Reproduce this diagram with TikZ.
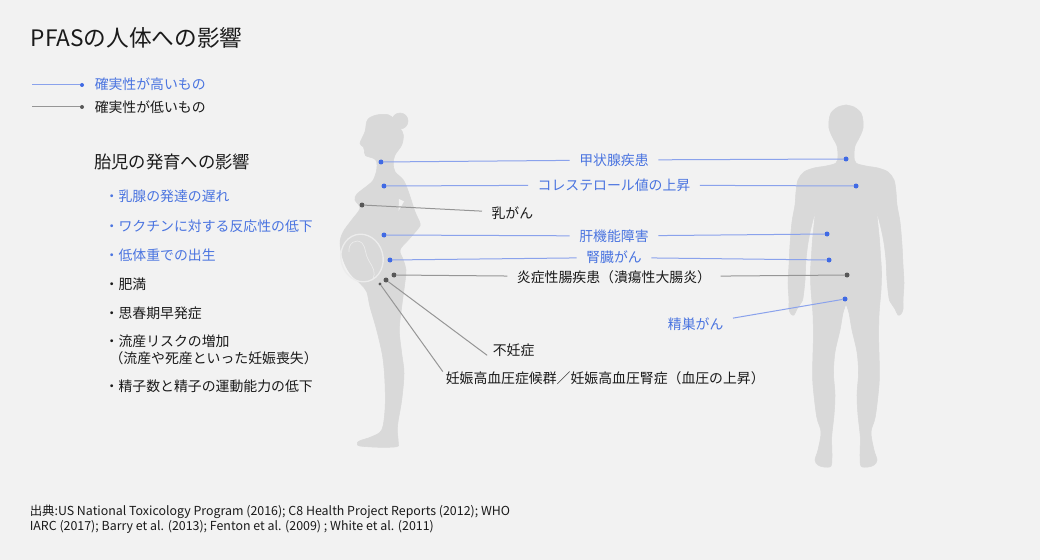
\documentclass[tikz,border=0pt]{standalone}
\usepackage{fontspec}
\usepackage{xcolor}
\setmainfont{Noto Sans CJK JP}

\definecolor{bgc}{RGB}{242,242,242}
\definecolor{bodygray}{RGB}{217,217,217}
\definecolor{ringc}{RGB}{236,236,236}
\definecolor{sure}{RGB}{64,106,228}
\definecolor{suretxt}{RGB}{74,116,224}
\definecolor{sureline}{RGB}{138,162,236}
\definecolor{weak}{RGB}{88,88,88}
\definecolor{weakline}{RGB}{150,150,150}
\definecolor{ink}{RGB}{26,26,26}

\newcommand{\pfTitle}{\fontsize{17}{20}\selectfont}
\newcommand{\pfHead}{\fontsize{13}{16}\selectfont}
\newcommand{\pfBody}{\fontsize{10.4}{12.5}\selectfont}
\newcommand{\pfNote}{\fontsize{9.3}{11.25}\selectfont}

\begin{document}
\begin{tikzpicture}[x=0.75pt,y=0.75pt,yscale=-1,xscale=1,
    dotb/.style={circle,fill=sure,inner sep=0pt,minimum size=3.75pt},
    dotg/.style={circle,fill=weak,inner sep=0pt,minimum size=3.75pt},
    lnb/.style={draw=sureline,line width=0.75pt},
    lng/.style={draw=weakline,line width=0.75pt},
    txt/.style={inner sep=0pt,anchor=west,text=ink,font=\pfBody},
    txtb/.style={txt,text=suretxt},
    onln/.style={inner xsep=7pt,inner ysep=0pt,text=ink,font=\pfBody},
    bodyfill/.style={fill=bodygray,draw=bodygray,line width=0.4pt}]

%Background
    \fill[bgc] (0,0) rectangle (1040,560);
    \useasboundingbox (0,0) rectangle (1040,560);

%Shape: pregnant woman (profile)
    \fill[bodyfill] plot[smooth cycle,tension=0.55] coordinates {(370,117.5) (376.7,115) (385,114.3) (391.7,116.7) (400,128) (403.3,135) (401.7,145) (395,155) (393.3,163.3) (395,171.7) (403.3,180) (408.5,192) (415,211.7) (420,223.3) (418.3,228.3) (408.3,240) (400,250) (403.3,260) (406,270) (405,281.7) (401.7,306.7) (399.3,330) (401.7,353.3) (404,373.3) (401.7,400) (398.3,420) (397.3,430) (398.3,443.3) (396.7,446.7) (380,447.3) (360,446) (357.3,443.3) (360,440.7) (371.7,436.7) (381.7,430) (385,410) (385,383.3) (382.7,356.7) (376.7,330) (370,306.7) (366.7,291.7) (360,283.3) (350,273.3) (343.3,260) (340,243.3) (343.3,231.7) (351.7,220) (360,208.3) (355,200) (357,194) (368.3,185) (373.3,180) (376.7,170) (376.7,161.7) (373.3,158.3) (365.5,155.5) (364.3,150) (363.3,146.7) (360,143.3) (365,131.7) (366.7,121.7)};
    \fill[bodyfill] (400,121) circle [radius=8];
    \fill[bgc] (399,199) -- (404,201.5) -- (398.5,211) -- cycle;
%Fetus
    \draw[ringc,line width=1pt,rotate around={-15:(362,258)}] (362,258) ellipse [x radius=21,y radius=24];
    \draw[ringc,line width=0.5pt] (349,252) .. controls (348,243) and (356,238) .. (362,243) .. controls (366,247) and (365,255) .. (369,261) .. controls (373,267) and (376,273) .. (373,279);

%Shape: man (front)
    \foreach \s in {1,-1}
        \fill[bodyfill,shift={(846,0)},xscale=\s] plot[smooth,tension=0.55] coordinates {(0,105) (-8,107) (-15,113) (-17,121) (-17,128) (-15,134) (-12,140) (-9,146) (-8,156) (-10,163) (-20,166) (-32,168) (-42,172) (-48,180) (-50,192) (-51,205) (-54,222) (-56,245) (-57,265) (-58,283) (-57,300) (-57,309) (-55,314) (-52,315) (-49,309) (-45,303) (-43,298) (-41,280) (-40,260) (-38,243) (-35,228) (-31,213) (-32,225) (-33.5,240) (-34.5,255) (-35.5,272) (-35,290) (-33,315) (-32.7,340) (-33.3,365) (-33,385) (-29.3,416.7) (-25,432) (-28,450) (-31,460) (-28,465) (-22,467) (-15,466) (-14,455) (-14.3,437) (-12,415) (-11,395) (-12.5,373) (-11,352) (-6,330) (-3,313) (0,304)} -- cycle;

% Text Node
    \node[txt,font=\pfTitle,inner sep=0pt] (ttl) at (30.5,38.3) {PFASの人体への影響};

%Legend
    \coordinate (lgB) at (32,85);
    \node[dotb,minimum size=3pt] (lgBd) at (82,85) {};
    \draw[lnb] (lgB) -- (lgBd);
    \coordinate (lgG) at (32,107);
    \node[dotg,minimum size=3pt] (lgGd) at (82,107) {};
    \draw[lng] (lgG) -- (lgGd);
    \node[txtb] (lgBt) at (94.5,83.8) {確実性が高いもの};
    \node[txt] (lgGt) at (94.5,107) {確実性が低いもの};

% Text Node
    \node[txt,font=\pfHead] (fet) at (94,161.5) {胎児の発育への影響};
    \node[txtb] (f1) at (104.5,196.5) {・乳腺の発達の遅れ};
    \node[txtb] (f2) at (104.5,226) {・ワクチンに対する反応性の低下};
    \node[txtb] (f3) at (104.5,255.5) {・低体重での出生};
    \node[txt] (f4) at (104.5,284.5) {・肥満};
    \node[txt] (f5) at (104.5,313.5) {・思春期早発症};
    \node[txt,align=left] (f6) at (104.5,350) {・流産リスクの増加\\\hspace*{0.35em}（流産や死産といった妊娠喪失）};
    \node[txt] (f7) at (104.5,386.5) {・精子数と精子の運動能力の低下};

%Dots: woman
    \node[dotb] (thyF) at (381,162) {};
    \node[dotb] (chF) at (384,186) {};
    \node[dotg] (brF) at (362,205) {};
    \node[dotb] (lvF) at (384,235) {};
    \node[dotb] (kdF) at (390,260) {};
    \node[dotg] (ibF) at (394,275) {};
    \node[dotg] (inF) at (386,280) {};
    \node[dotg,minimum size=2.4pt] (hpF) at (380,284) {};
%Dots: man
    \node[dotb] (thyM) at (846,159) {};
    \node[dotb] (chM) at (856,186) {};
    \node[dotb] (lvM) at (827,234) {};
    \node[dotb] (kdM) at (829,260) {};
    \node[dotg] (ibM) at (847,275) {};
    \node[dotb] (tsM) at (845,299) {};

% Text Node
    \node[onln,text=suretxt] (thyL) at (614,160) {甲状腺疾患};
    \node[onln,text=suretxt] (chL) at (614,185) {コレステロール値の上昇};
    \node[onln,anchor=west] (brL) at (482,212.7) {乳がん};
    \node[onln,text=suretxt] (lvL) at (614,236) {肝機能障害};
    \node[onln,text=suretxt] (kdL) at (614,257.5) {腎臓がん};
    \node[onln] (ibL) at (614,277) {炎症性腸疾患（潰瘍性大腸炎）};
    \node[onln,text=suretxt,anchor=east] (tsL) at (733,324.5) {精巣がん};
    \node[txt] (inL) at (492.5,350) {不妊症};
    \node[txt] (hpL) at (445.5,378.5) {妊娠高血圧症候群／妊娠高血圧腎症（血圧の上昇）};

%Straight Lines
    \draw[lnb] (thyF) -- (thyL);
    \draw[lnb] (thyL) -- (thyM);
    \draw[lnb] (chF) -- (chL);
    \draw[lnb] (chL) -- (chM);
    \draw[lng] (brF) -- (brL);
    \draw[lnb] (lvF) -- (lvL);
    \draw[lnb] (lvL) -- (lvM);
    \draw[lnb] (kdF) -- (kdL);
    \draw[lnb] (kdL) -- (kdM);
    \draw[lng] (ibF) -- (ibL);
    \draw[lng] (ibL) -- (ibM);
    \draw[lnb] (tsM) -- (tsL);
    \draw[lng] (inF) -- ([xshift=-4pt,yshift=4pt]inL.west);
    \draw[lng] (hpF) -- ([xshift=-2pt]hpL.north west);

% Text Node
    \node[txt,font=\pfNote,align=left] (src) at (29.5,518.8) {出典:US National Toxicology Program (2016); C8 Health Project Reports (2012); WHO\\IARC (2017); Barry et al. (2013); Fenton et al. (2009) ; White et al. (2011)};

\end{tikzpicture}
\end{document}
